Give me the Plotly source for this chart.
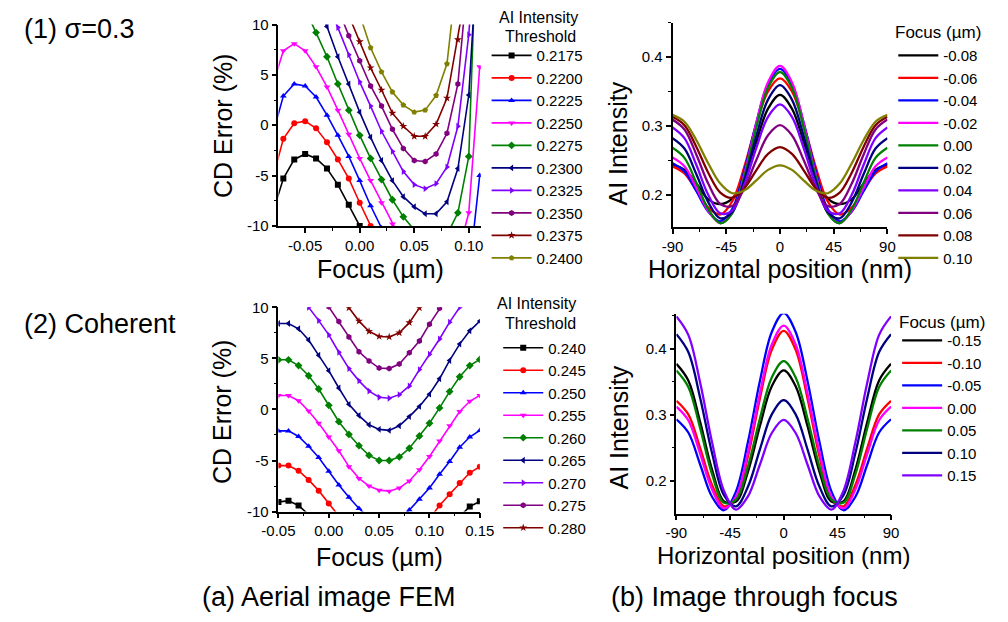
import plotly.graph_objects as go

FONT = "Arial, 'Liberation Sans', sans-serif"

# ---------------- Panel (1a): sigma=0.3 FEM ----------------
focus_a = [-0.08, -0.07, -0.06, -0.05, -0.04, -0.03, -0.02, -0.01, 0.00, 0.01,
           0.02, 0.03, 0.04, 0.05, 0.06, 0.07, 0.08, 0.09, 0.10, 0.11]
thr_a = ["0.2175", "0.2200", "0.2225", "0.2250", "0.2275",
         "0.2300", "0.2325", "0.2350", "0.2375", "0.2400"]
cd_a_2175 = [-8.8, -5.3, -3.4, -2.85, -3.3, -4.3, -5.9, -7.9, -10.0, -12.3,
             -14.8, -17.0, -19.0, -20.5, -21.5, -21.8, -21.5, -21.0, -20.5, -20.0]
cd_a_2200 = [-5.4, -1.35, 0.2, 0.4, -0.3, -1.7, -3.4, -5.3, -7.7, -10.0,
             -12.5, -14.8, -16.8, -18.3, -19.2, -19.5, -19.2, -18.5, -18.0, -15.0]
cd_a_2225 = [-1.0, 2.9, 4.1, 3.9, 2.8, 1.0, -1.0, -3.1, -5.5, -8.0,
             -10.2, -12.4, -14.3, -15.8, -16.7, -17.0, -16.7, -16.0, -15.0, -5.0]
cd_a_2250 = [3.9, 7.4, 8.1, 7.4, 5.8, 3.8, 1.5, -0.9, -3.3, -5.5,
             -7.7, -9.8, -11.8, -13.2, -14.0, -14.2, -13.8, -12.8, -8.7, 5.8]
cd_a_2275 = [10.5, 12.2, 12.5, 11.5, 9.2, 6.8, 4.1, 1.5, -1.0, -3.3,
             -5.4, -7.4, -9.1, -10.4, -11.2, -11.3, -10.9, -8.7, -3.1, 28.0]
cd_a_2300 = [13.5, 14.7, 14.8, 14.0, 12.3, 9.8, 6.8, 4.1, 1.3, -1.2,
             -3.5, -5.5, -7.1, -8.1, -8.8, -8.8, -7.6, -4.3, 3.0, 21.0]
cd_a_2325 = [16.0, 17.0, 17.0, 16.2, 14.5, 12.2, 9.7, 7.0, 4.3, 1.9,
             -0.6, -2.6, -4.6, -5.9, -6.3, -5.8, -4.15, -0.1, 9.0, 24.0]
cd_a_2350 = [18.5, 19.3, 19.2, 18.3, 16.5, 14.2, 11.6, 8.9, 6.4, 3.9,
             1.9, -0.4, -2.3, -3.5, -3.6, -2.85, -0.8, 4.1, 15.9, 30.0]
cd_a_2375 = [20.5, 21.2, 21.0, 20.1, 18.3, 16.0, 13.5, 10.9, 8.3, 5.7,
             3.5, 1.2, -0.1, -1.1, -1.1, 0.1, 2.7, 8.5, 15.0, 30.0]
cd_a_2400 = [22.5, 23.2, 23.0, 22.0, 20.2, 17.9, 15.4, 13.6, 11.0, 7.7,
             5.3, 3.3, 2.0, 1.3, 1.5, 2.95, 6.1, 15.8, 28.0, 40.0]
cd_a = [cd_a_2175, cd_a_2200, cd_a_2225, cd_a_2250, cd_a_2275,
        cd_a_2300, cd_a_2325, cd_a_2350, cd_a_2375, cd_a_2400]

# ---------------- Panel (2a): coherent FEM ----------------
focus_c = [-0.05, -0.04, -0.03, -0.02, -0.01, 0.00, 0.01, 0.02, 0.03, 0.04, 0.05,
           0.06, 0.07, 0.08, 0.09, 0.10, 0.11, 0.12, 0.13, 0.14, 0.15]
thr_c = ["0.240", "0.245", "0.250", "0.255", "0.260",
         "0.265", "0.270", "0.275", "0.280"]
cd_c_240 = [-9.05, -8.95, -9.4, -10.3, -11.5, -12.8, -14.1, -15.3, -16.3, -17.0, -17.4,
            -17.5, -17.1, -16.4, -15.4, -14.2, -12.9, -11.6, -10.5, -9.5, -9.0]
cd_c_245 = [-5.5, -5.5, -6.0, -6.9, -7.95, -9.2, -10.5, -11.7, -12.7, -13.4, -13.9,
            -14.0, -13.6, -12.9, -11.9, -10.7, -9.4, -8.3, -7.2, -6.2, -5.6]
cd_c_250 = [-2.1, -2.1, -2.65, -3.6, -4.7, -6.05, -7.4, -8.6, -9.7, -10.6, -11.05,
            -11.1, -10.75, -9.85, -8.8, -7.7, -6.35, -5.1, -3.7, -2.7, -2.05]
cd_c_255 = [1.37, 1.37, 0.86, -0.15, -1.36, -2.7, -4.05, -5.6, -6.75, -7.5, -7.9,
            -8.0, -7.7, -7.0, -5.9, -4.6, -3.1, -1.6, -0.2, 0.8, 1.37]
cd_c_260 = [4.86, 4.86, 4.3, 3.3, 2.0, 0.4, -1.2, -2.45, -3.55, -4.5, -5.0,
            -5.0, -4.65, -3.8, -2.6, -1.35, 0.15, 1.75, 3.2, 4.3, 4.9]
cd_c_265 = [8.42, 8.42, 7.9, 6.8, 5.3, 3.8, 2.1, 0.5, -0.6, -1.5, -1.95,
            -2.05, -1.6, -0.7, 0.3, 1.5, 3.0, 4.8, 6.4, 7.7, 8.65]
cd_c_270 = [11.8, 11.7, 11.1, 10.0, 8.7, 7.3, 5.6, 4.0, 2.8, 1.8, 1.2,
            1.1, 1.45, 2.3, 3.9, 5.4, 6.9, 8.55, 10.0, 11.2, 12.0]
cd_c_275 = [14.5, 14.5, 14.0, 12.9, 11.5, 10.05, 8.6, 7.1, 5.65, 4.75, 4.05,
            4.0, 4.45, 5.55, 6.7, 8.35, 9.9, 11.4, 12.8, 14.0, 14.7]
cd_c_280 = [18.0, 18.0, 17.5, 16.2, 14.8, 13.3, 11.5, 9.95, 8.65, 7.65, 7.15,
            7.1, 7.5, 8.5, 9.95, 11.5, 13.0, 14.6, 16.0, 17.2, 18.0]
cd_c = [cd_c_240, cd_c_245, cd_c_250, cd_c_255, cd_c_260,
        cd_c_265, cd_c_270, cd_c_275, cd_c_280]

# ---------------- Panel (1b): sigma=0.3 image through focus ----------------
pos_nm = [-90, -80, -70, -60, -50, -40, -30, -20, -10, 0,
          10, 20, 30, 40, 50, 60, 70, 80, 90]
focus_b = ["-0.08", "-0.06", "-0.04", "-0.02", "0.00",
           "0.02", "0.04", "0.06", "0.08", "0.10"]
ai_b_m08 = [0.243, 0.236, 0.216, 0.193, 0.186, 0.194, 0.225, 0.276, 0.325, 0.345,
            0.325, 0.276, 0.225, 0.194, 0.186, 0.193, 0.216, 0.236, 0.243]
ai_b_m06 = [0.241, 0.2308, 0.206, 0.1812, 0.171, 0.1899, 0.2394, 0.3006, 0.3501, 0.369,
            0.3501, 0.3006, 0.2394, 0.1899, 0.171, 0.1812, 0.206, 0.2308, 0.241]
ai_b_m04 = [0.2455, 0.2337, 0.2049, 0.1751, 0.1611, 0.179, 0.2336, 0.3033, 0.3606, 0.3826,
            0.3606, 0.3033, 0.2336, 0.179, 0.1611, 0.1751, 0.2049, 0.2337, 0.2455]
ai_b_m02 = [0.254, 0.2412, 0.2096, 0.176, 0.1585, 0.1733, 0.2287, 0.3023, 0.3633, 0.387,
            0.3633, 0.3023, 0.2287, 0.1733, 0.1585, 0.176, 0.2096, 0.2412, 0.254]
ai_b_p00 = [0.268, 0.2533, 0.2169, 0.1784, 0.1583, 0.1725, 0.2257, 0.2965, 0.3552, 0.378,
            0.3552, 0.2965, 0.2257, 0.1725, 0.1583, 0.1784, 0.2169, 0.2533, 0.268]
ai_b_p02 = [0.282, 0.2669, 0.2295, 0.1887, 0.1654, 0.1745, 0.2204, 0.2841, 0.3381, 0.359,
            0.3381, 0.2841, 0.2204, 0.1745, 0.1654, 0.1887, 0.2295, 0.2669, 0.282]
ai_b_p04 = [0.2977, 0.2821, 0.2429, 0.1993, 0.1726, 0.1767, 0.2135, 0.2669, 0.313, 0.331,
            0.313, 0.2669, 0.2135, 0.1767, 0.1726, 0.1993, 0.2429, 0.2821, 0.2977]
ai_b_p06 = [0.309, 0.2947, 0.258, 0.2156, 0.1863, 0.1834, 0.2086, 0.2495, 0.2863, 0.301,
            0.2863, 0.2495, 0.2086, 0.1834, 0.1863, 0.2156, 0.258, 0.2947, 0.309]
ai_b_p08 = [0.313, 0.3008, 0.2693, 0.2314, 0.2029, 0.1954, 0.2089, 0.2348, 0.2591, 0.269,
            0.2591, 0.2348, 0.2089, 0.1954, 0.2029, 0.2314, 0.2693, 0.3008, 0.313]
ai_b_p10 = [0.316, 0.3059, 0.279, 0.2451, 0.2159, 0.2019, 0.2058, 0.2203, 0.2359, 0.2425,
            0.2359, 0.2203, 0.2058, 0.2019, 0.2159, 0.2451, 0.279, 0.3059, 0.316]
ai_b = [ai_b_m08, ai_b_m06, ai_b_m04, ai_b_m02, ai_b_p00,
        ai_b_p02, ai_b_p04, ai_b_p06, ai_b_p08, ai_b_p10]

# ---------------- Panel (2b): coherent image through focus ----------------
focus_d = ["-0.15", "-0.10", "-0.05", "0.00", "0.05", "0.10", "0.15"]
ai_d_m15 = [0.377, 0.3518, 0.2882, 0.2158, 0.1685, 0.1682, 0.2133, 0.2823, 0.343, 0.367,
            0.343, 0.2823, 0.2133, 0.1682, 0.1685, 0.2158, 0.2882, 0.3518, 0.377]
ai_d_m10 = [0.321, 0.3003, 0.2489, 0.193, 0.1609, 0.1734, 0.2365, 0.3241, 0.3983, 0.427,
            0.3983, 0.3241, 0.2365, 0.1734, 0.1609, 0.193, 0.2489, 0.3003, 0.321]
ai_d_m05 = [0.293, 0.2729, 0.224, 0.1751, 0.155, 0.1836, 0.2583, 0.3507, 0.4254, 0.454,
            0.4254, 0.3507, 0.2583, 0.1836, 0.155, 0.1751, 0.224, 0.2729, 0.293]
ai_d_p00 = [0.312, 0.2914, 0.2402, 0.1861, 0.1579, 0.1756, 0.2428, 0.3321, 0.4063, 0.435,
            0.4063, 0.3321, 0.2428, 0.1756, 0.1579, 0.1861, 0.2402, 0.2914, 0.312]
ai_d_p05 = [0.367, 0.342, 0.2791, 0.2091, 0.1662, 0.1711, 0.2212, 0.2938, 0.3564, 0.381,
            0.3564, 0.2938, 0.2212, 0.1711, 0.1662, 0.2091, 0.2791, 0.342, 0.367]
ai_d_p10 = [0.422, 0.3949, 0.3249, 0.2409, 0.1776, 0.1609, 0.1905, 0.247, 0.3004, 0.322,
            0.3004, 0.247, 0.1905, 0.1609, 0.1776, 0.2409, 0.3249, 0.3949, 0.422]
ai_d_p15 = [0.449, 0.421, 0.3478, 0.2572, 0.184, 0.156, 0.1759, 0.224, 0.2721, 0.292,
            0.2721, 0.224, 0.1759, 0.156, 0.184, 0.2572, 0.3478, 0.421, 0.449]
ai_d = [ai_d_m15, ai_d_m10, ai_d_m05, ai_d_p00, ai_d_p05, ai_d_p10, ai_d_p15]

# ---------------- tick labels ----------------
cd_ticks = [-10, -5, 0, 5, 10]
cd_ticktext = ["-10", "-5", "0", "5", "10"]
fa_ticks = [-0.05, 0.00, 0.05, 0.10]
fa_ticktext = ["-0.05", "0.00", "0.05", "0.10"]
fc_ticks = [-0.05, 0.00, 0.05, 0.10, 0.15]
fc_ticktext = ["-0.05", "0.00", "0.05", "0.10", "0.15"]
pos_ticks = [-90, -45, 0, 45, 90]
pos_ticktext = ["-90", "-45", "0", "45", "90"]
ai_ticks = [0.2, 0.3, 0.4]
ai_ticktext = ["0.2", "0.3", "0.4"]

colors = ["#000000", "#FF0000", "#0000FF", "#FF00FF", "#008000",
          "#000080", "#8000FF", "#800080", "#800000", "#808000"]
symbols = ["square", "circle", "triangle-up", "triangle-down", "diamond",
           "triangle-left", "triangle-right", "hexagon", "star", "pentagon"]

fig = go.Figure()

for i, (name, ys) in enumerate(zip(thr_a, cd_a)):
    fig.add_trace(go.Scatter(
        x=focus_a, y=ys, name=name, mode="lines+markers",
        line=dict(color=colors[i], width=1.6),
        marker=dict(symbol=symbols[i], size=6, color=colors[i]),
        xaxis="x", yaxis="y", legend="legend"))

for i, (name, ys) in enumerate(zip(thr_c, cd_c)):
    fig.add_trace(go.Scatter(
        x=focus_c, y=ys, name=name, mode="lines+markers",
        line=dict(color=colors[i], width=1.6),
        marker=dict(symbol=symbols[i], size=6, color=colors[i]),
        xaxis="x3", yaxis="y3", legend="legend3"))

for i, (name, ys) in enumerate(zip(focus_b, ai_b)):
    fig.add_trace(go.Scatter(
        x=pos_nm, y=ys, name=name, mode="lines",
        line=dict(color=colors[i], width=2.3, shape="spline", smoothing=1.0),
        xaxis="x2", yaxis="y2", legend="legend2"))

for i, (name, ys) in enumerate(zip(focus_d, ai_d)):
    fig.add_trace(go.Scatter(
        x=pos_nm, y=ys, name=name, mode="lines",
        line=dict(color=colors[i], width=2.3, shape="spline", smoothing=1.0),
        xaxis="x4", yaxis="y4", legend="legend4"))

W, H = 1008, 622


def px(x):
    return x / W


def py(y):
    return 1 - y / H


def axis(dom, rng, tv, tt, minor_vals, anchor):
    return dict(domain=dom, range=rng, anchor=anchor,
                tickmode="array", tickvals=tv, ticktext=tt,
                showline=True, linecolor="black", linewidth=1.6,
                ticks="outside", ticklen=5, tickwidth=1.5, tickcolor="black",
                showgrid=False, zeroline=False,
                tickfont=dict(family=FONT, size=15, color="black"),
                minor=dict(tickvals=minor_vals, ticks="outside", ticklen=3,
                           tickwidth=1.2, tickcolor="black", showgrid=False))


legend_common = dict(xanchor="left", yanchor="top", bgcolor="rgba(0,0,0,0)",
                     borderwidth=0, tracegroupgap=0, itemwidth=40,
                     font=dict(family=FONT, size=15, color="black"))

fig.update_layout(
    width=W, height=H, margin=dict(l=0, r=0, t=0, b=0),
    paper_bgcolor="white", plot_bgcolor="white",
    font=dict(family=FONT, color="black"),
    xaxis=axis([px(270), px(479)], [-0.0745, 0.111], fa_ticks, fa_ticktext,
               [-0.075, -0.025, 0.025, 0.075], "y"),
    yaxis=axis([py(223), py(16)], [-10, 10], cd_ticks, cd_ticktext,
               [-7.5, -2.5, 2.5, 7.5], "x"),
    xaxis2=axis([px(677), px(899)], [-90, 90], pos_ticks, pos_ticktext,
                [-67.5, -22.5, 22.5, 67.5], "y2"),
    yaxis2=axis([py(224), py(14)], [0.153, 0.45], ai_ticks, ai_ticktext,
                [0.25, 0.35, 0.45], "x2"),
    xaxis3=axis([px(270), px(478)], [-0.05, 0.15], fc_ticks, fc_ticktext,
                [-0.025, 0.025, 0.075, 0.125], "y3"),
    yaxis3=axis([py(516.7), py(306.7)], [-10, 10], cd_ticks, cd_ticktext,
                [-7.5, -2.5, 2.5, 7.5], "x3"),
    xaxis4=axis([px(681), px(902.7)], [-90, 90], pos_ticks, pos_ticktext,
                [-67.5, -22.5, 22.5, 67.5], "y4"),
    yaxis4=axis([py(518.7), py(313.3)], [0.15, 0.453], ai_ticks, ai_ticktext,
                [0.25, 0.35, 0.45], "x4"),
    legend=dict(x=px(485), y=py(31), **legend_common),
    legend3=dict(x=px(497), y=py(331.5), **legend_common),
    legend2=dict(x=px(905), y=py(31), **legend_common),
    legend4=dict(x=px(909), y=py(324), **legend_common),
)

ann = []


def text(x, y, s, size, angle=0, xanchor="center"):
    ann.append(dict(x=px(x), y=py(y), xref="paper", yref="paper", text=s, showarrow=False,
                    textangle=angle, xanchor=xanchor, yanchor="middle", borderpad=0,
                    font=dict(family=FONT, size=size, color="black")))


text(212, 120, "CD Error (%)", 25, -90)
text(375, 267, "Focus (µm)", 25)
text(211, 414, "CD Error (%)", 25, -90)
text(374, 563, "Focus (µm)", 25)
text(621, 138, "AI Intensity", 25, -90)
text(788, 267, "Horizontal position (nm)", 25)
text(622, 430, "AI Intensity", 25, -90)
text(792, 562, "Horizontal position (nm)", 24)
text(539, 9, "AI Intensity", 16)
text(541, 28.5, "Threshold", 16)
text(537, 303, "AI Intensity", 16)
text(541, 323, "Threshold", 16)
text(906, 24, "Focus (µm)", 17, xanchor="left")
text(910, 322, "Focus (µm)", 17, xanchor="left")
text(6, 21, "(1) σ=0.3", 27, xanchor="left")
text(6, 324, "(2) Coherent", 27, xanchor="left")
text(322, 605, "(a) Aerial image FEM", 27)
text(762, 605, "(b) Image through focus", 27)
fig.update_layout(annotations=ann)

fig.write_html("out.html", config={"displayModeBar": False},
               post_script="document.body.style.margin='0px';")
